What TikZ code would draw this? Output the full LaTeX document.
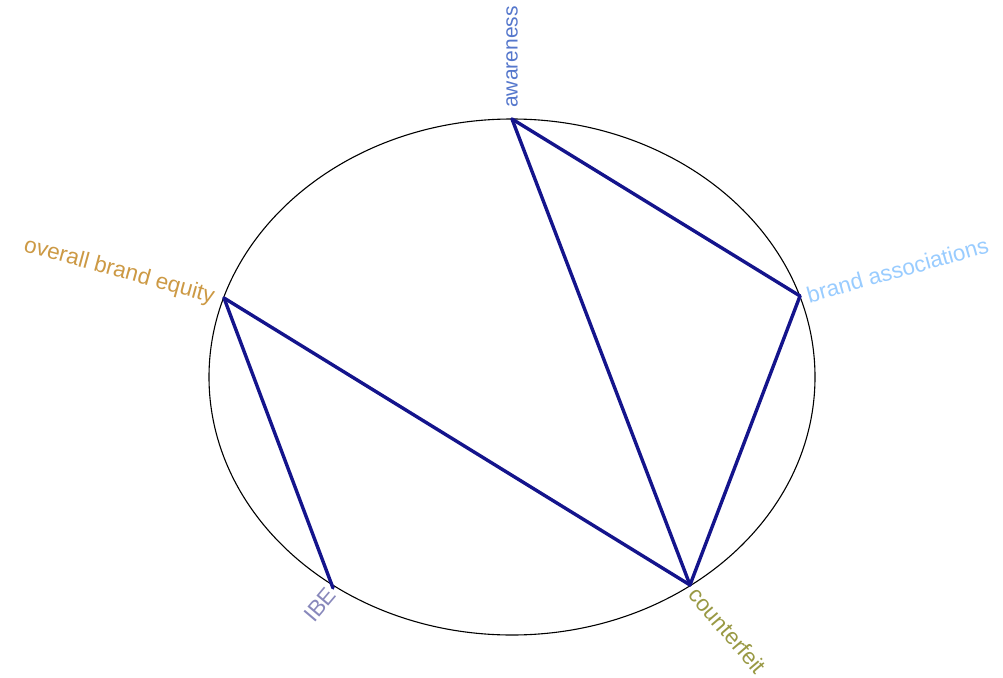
\documentclass[tikz,border=0pt]{standalone}
\usepackage{fontspec}
\setmainfont{Liberation Sans}
\definecolor{edgecol}{HTML}{14148C}
\definecolor{awcol}{HTML}{5577CC}
\definecolor{bacol}{HTML}{99CCFF}
\definecolor{obecol}{HTML}{CC9944}
\definecolor{ibecol}{HTML}{8888BB}
\definecolor{cfcol}{HTML}{999944}
\tikzset{
  lbl/.style={inner sep=2pt, font=\fontsize{22.5}{25}\selectfont},
  link/.style={draw=edgecol, line width=3.4pt, line cap=round, line join=round},
}
\begin{document}
\begin{tikzpicture}[x=1pt,y=-1pt]
\useasboundingbox (0,0) rectangle (1003,677);
\draw[black, line width=1.1pt] (512,377) ellipse [x radius=303, y radius=258];
\coordinate (aw) at (512,119);
\coordinate (ba) at (800,296);
\coordinate (obe) at (224,298);
\coordinate (ibe) at (333,588);
\coordinate (cf) at (690,585);
\draw[link] (aw) -- (ba);
\draw[link] (aw) -- (cf);
\draw[link] (ba) -- (cf);
\draw[link] (obe) -- (cf);
\draw[link] (obe) -- (ibe);
\node[lbl, text=awcol, rotate=90, anchor=west, font=\fontsize{21}{23}\selectfont] (awl) at ([yshift=9]aw) {awareness};
\node[lbl, text=bacol, rotate=15.7, anchor=west] (bal) at ([xshift=5]ba) {brand associations};
\node[lbl, text=obecol, rotate=-15.3, anchor=east] (obel) at ([xshift=-8]obe) {overall brand equity};
\node[lbl, text=ibecol, rotate=49.7, anchor=east] (ibel) at ([xshift=0,yshift=-1]ibe) {IBE};
\node[lbl, text=cfcol, rotate=-49.4, anchor=west] (cfl) at ([xshift=2,yshift=-4]cf) {counterfeit};
\end{tikzpicture}
\end{document}
